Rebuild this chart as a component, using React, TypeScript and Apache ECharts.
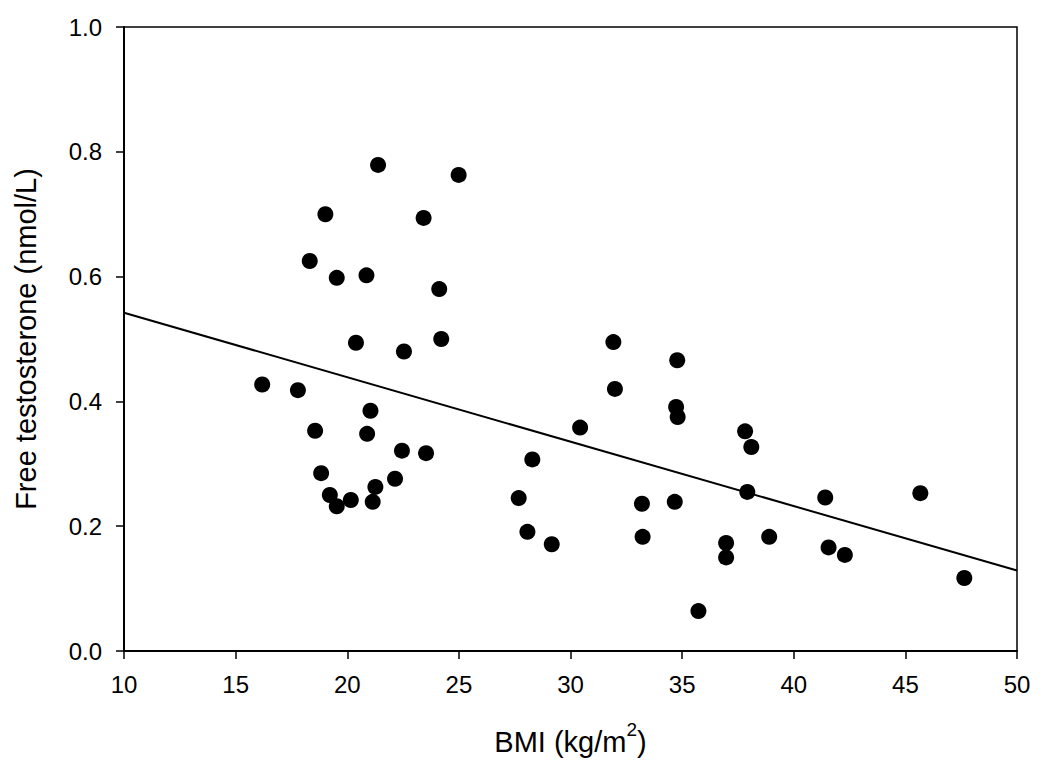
import React, { useEffect, useRef } from "react";
import * as echarts from "echarts";

const bmi: number[] = [
  16.19, 17.79, 18.32, 18.56, 18.83, 19.02, 19.22, 19.53, 19.53, 20.16,
  20.39, 20.86, 20.89, 21.04, 21.14, 21.26, 21.38, 22.14, 22.45, 22.54,
  23.42, 23.53, 24.12, 24.21, 24.99, 27.68, 28.07, 28.29, 29.16, 30.43,
  31.92, 31.99, 33.2, 33.23, 34.67, 34.73, 34.8, 34.78, 35.73, 36.97,
  36.97, 37.82, 37.92, 38.1, 38.9, 41.41, 41.56, 42.29, 45.67, 47.64,
];
const freeT: number[] = [
  0.427, 0.418, 0.625, 0.353, 0.285, 0.7, 0.25, 0.232, 0.598, 0.242,
  0.494, 0.602, 0.348, 0.385, 0.239, 0.263, 0.779, 0.276, 0.321, 0.48,
  0.694, 0.317, 0.58, 0.5, 0.763, 0.245, 0.191, 0.307, 0.171, 0.358,
  0.495, 0.42, 0.236, 0.183, 0.239, 0.391, 0.375, 0.466, 0.064, 0.173,
  0.15, 0.352, 0.255, 0.327, 0.183, 0.246, 0.166, 0.154, 0.253, 0.117,
];
const fitX: number[] = [10, 50];
const fitY: number[] = [0.542, 0.129];

export default function App() {
  const ref = useRef<HTMLDivElement>(null);
  useEffect(() => {
    if (!ref.current) return;
    const chart = echarts.init(ref.current, undefined, { renderer: "svg" });
    const font = "Liberation Sans, Arial, sans-serif";
    chart.setOption({
      animation: false,
      backgroundColor: "#fff",
      grid: {
        left: 124,
        right: 33,
        top: 27,
        bottom: 119,
        show: true,
        borderColor: "#000",
        borderWidth: 1.5,
      },
      xAxis: {
        type: "value",
        min: 10,
        max: 50,
        interval: 5,
        name: "{a|BMI (kg/m}{sup|2}{a|)}",
        nameLocation: "middle",
        nameGap: 69,
        nameTextStyle: {
          fontFamily: font,
          fontSize: 29,
          color: "#000",
          rich: {
            a: { fontFamily: font, fontSize: 29, color: "#000", lineHeight: 36, verticalAlign: "bottom" },
            sup: { fontFamily: font, fontSize: 19, color: "#000", lineHeight: 19, verticalAlign: "top" },
          },
        },
        axisLine: { show: true, onZero: false, lineStyle: { color: "#000", width: 2 } },
        axisTick: { show: true, inside: false, length: 8, lineStyle: { color: "#000", width: 1.5 } },
        axisLabel: { fontFamily: font, fontSize: 24, color: "#000", margin: 21 },
        splitLine: { show: false },
      },
      yAxis: {
        type: "value",
        min: 0,
        max: 1,
        interval: 0.2,
        name: "Free testosterone (nmol/L)",
        nameLocation: "middle",
        nameGap: 84,
        nameRotate: 90,
        nameTextStyle: { fontFamily: font, fontSize: 29, color: "#000" },
        axisLine: { show: true, onZero: false, lineStyle: { color: "#000", width: 2 } },
        axisTick: { show: true, inside: false, length: 8, lineStyle: { color: "#000", width: 1.5 } },
        axisLabel: {
          fontFamily: font,
          fontSize: 24,
          color: "#000",
          margin: 22,
          formatter: (v: number) => v.toFixed(1),
        },
        splitLine: { show: false },
      },
      series: [
        {
          type: "line",
          data: fitX.map((x, i) => [x, fitY[i]]),
          symbol: "none",
          lineStyle: { color: "#000", width: 2 },
          z: 2,
        },
        {
          type: "scatter",
          data: bmi.map((x, i) => [x, freeT[i]]),
          symbol: "circle",
          symbolSize: 16,
          itemStyle: { color: "#000", opacity: 1 },
          z: 3,
        },
      ],
    });
    return () => chart.dispose();
  }, []);
  return (
    <div
      ref={ref}
      style={{ position: "absolute", left: 0, top: 0, width: 1050, height: 770 }}
    />
  );
}
